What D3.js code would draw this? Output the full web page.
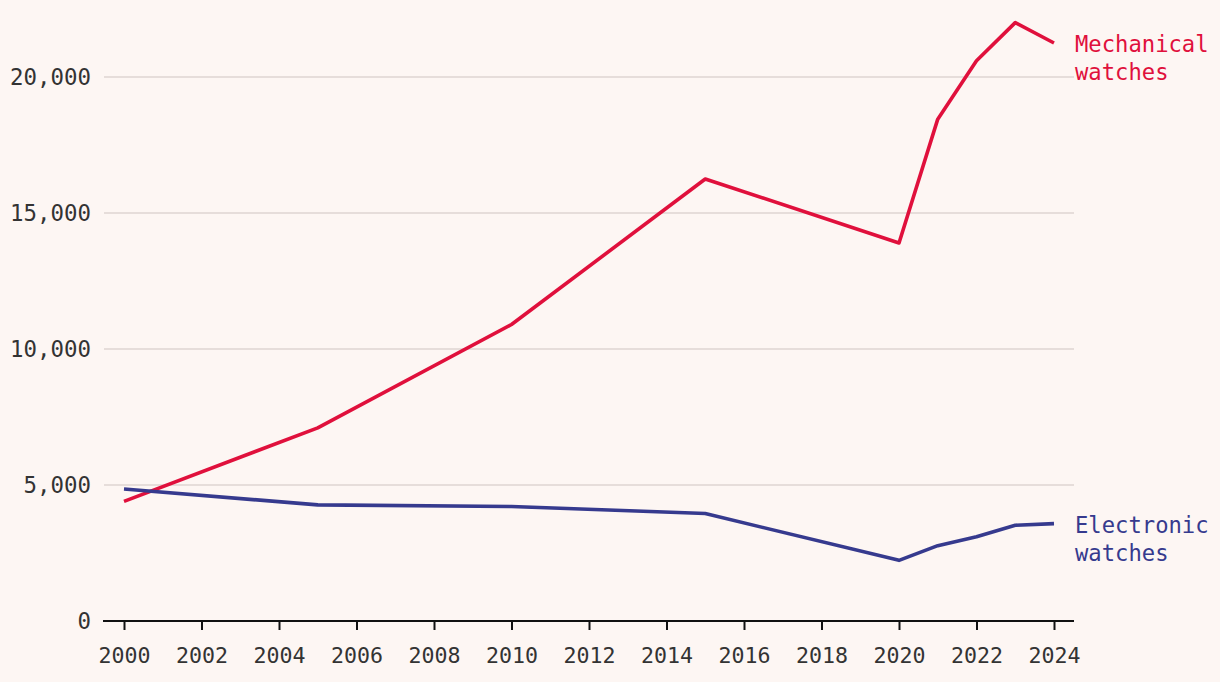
<!DOCTYPE html>
<html lang="en">
<head>
<meta charset="utf-8">
<title>Watch exports</title>
<script src="https://cdn.jsdelivr.net/npm/d3@7"></script>
<style>
  body { margin: 0; background: #fdf6f3; }
  svg { display: block; }
  text { font-family: "DejaVu Sans Mono", monospace; }
</style>
</head>
<body>
<script>
// data
var years = [2000, 2005, 2010, 2015, 2020, 2021, 2022, 2023, 2024];
var mechanical = [4400, 7100, 10900, 16250, 13900, 18450, 20600, 22000, 21250];
var electronic = [4850, 4270, 4210, 3950, 2230, 2770, 3100, 3520, 3580];
var yTicks = [0, 5000, 10000, 15000, 20000];
var xTicks = d3.range(2000, 2025, 2);

var w = 1220, h = 682;

var xScale = d3.scaleLinear().domain([2000, 2024]).range([124, 1054]);
var yScale = d3.scaleLinear().domain([0, 20000]).range([621, 77]);

var svg = d3.select("body").append("svg")
  .attr("width", w)
  .attr("height", h);

svg.append("rect").attr("width", w).attr("height", h).attr("fill", "#fdf6f3");

// gridlines
svg.selectAll("line.grid")
  .data(yTicks.slice(1))
  .enter().append("line")
  .attr("class", "grid")
  .attr("x1", 104).attr("x2", 1074)
  .attr("y1", function(d) { return yScale(d); })
  .attr("y2", function(d) { return yScale(d); })
  .attr("stroke", "#ded4d2")
  .attr("stroke-width", 1.3);

// y labels
svg.selectAll("text.ylab")
  .data(yTicks)
  .enter().append("text")
  .attr("class", "ylab")
  .attr("x", 91)
  .attr("y", function(d) { return yScale(d); })
  .attr("dy", "0.35em")
  .attr("text-anchor", "end")
  .attr("font-size", "22.4px")
  .attr("fill", "#333")
  .text(function(d) { return d3.format(",")(d); });

// x axis
var xAxis = d3.axisBottom(xScale)
  .tickValues(xTicks)
  .tickFormat(d3.format("d"))
  .tickSize(9)
  .tickPadding(18)
  .tickSizeOuter(0);

var gx = svg.append("g")
  .attr("transform", "translate(0," + yScale(0) + ")")
  .call(xAxis);
gx.select(".domain").remove();
gx.append("line")
  .attr("x1", 103).attr("x2", 1074)
  .attr("stroke", "#111").attr("stroke-width", 2);
gx.selectAll(".tick line").attr("stroke", "#111").attr("stroke-width", 2);
gx.selectAll(".tick text")
  .attr("font-family", "DejaVu Sans Mono, monospace")
  .attr("font-size", "21.6px")
  .attr("fill", "#333");

// lines
var series = [
  { name: ["Mechanical", "watches"], values: mechanical, color: "#e0103c" },
  { name: ["Electronic", "watches"], values: electronic, color: "#363a8e" }
];

var line = d3.line()
  .x(function(d, i) { return xScale(years[i]); })
  .y(function(d) { return yScale(d); });

series.forEach(function(s) {
  svg.append("path")
    .datum(s.values)
    .attr("d", line)
    .attr("fill", "none")
    .attr("stroke", s.color)
    .attr("stroke-width", 3.6)
    .attr("stroke-linejoin", "round");

  var last = s.values[s.values.length - 1];
  var t = svg.append("text")
    .attr("x", 1075)
    .attr("y", yScale(last) + 9)
    .attr("font-size", "22.2px")
    .attr("fill", s.color);
  s.name.forEach(function(n, i) {
    t.append("tspan").attr("x", 1075).attr("dy", i === 0 ? 0 : 28).text(n);
  });
});
</script>
</body>
</html>
